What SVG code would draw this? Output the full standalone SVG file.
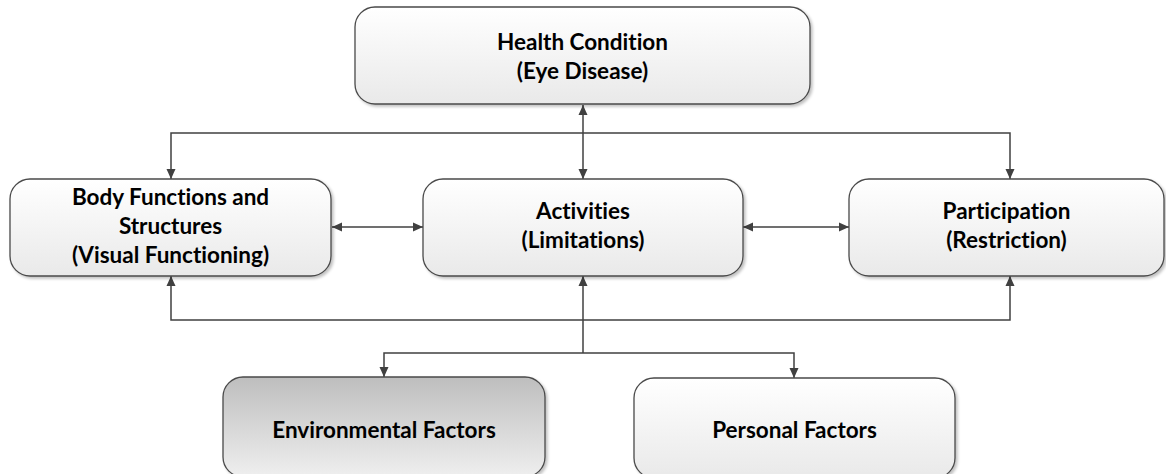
<svg xmlns="http://www.w3.org/2000/svg" width="1166" height="474" viewBox="0 0 1166 474">
  <style>
    .box { stroke: #4a4a4a; stroke-width: 1.3; filter: url(#shadow); }
    .light { fill: url(#gLight); }
    .dark { fill: url(#gDark); }
    .label { font-family: Lato, "Open Sans", sans-serif; font-weight: bold; font-size: 22.5px; font-variant-ligatures: none; fill: #000; text-anchor: middle; }
    .conn { fill: none; stroke: #404040; stroke-width: 1.5; }
  </style>
  <defs>
    <linearGradient id="gLight" x1="0" y1="0" x2="0" y2="1">
      <stop offset="0" stop-color="#ffffff"/>
      <stop offset="1" stop-color="#e9e9e9"/>
    </linearGradient>
    <linearGradient id="gDark" x1="0" y1="0" x2="0" y2="1">
      <stop offset="0" stop-color="#bebebe"/>
      <stop offset="1" stop-color="#efefef"/>
    </linearGradient>
    <filter id="shadow" x="-5%" y="-10%" width="115%" height="130%">
      <feGaussianBlur in="SourceAlpha" stdDeviation="1.5"/>
      <feOffset dx="2" dy="2" result="b"/>
      <feComponentTransfer><feFuncA type="linear" slope="0.25"/></feComponentTransfer>
      <feMerge><feMergeNode/><feMergeNode in="SourceGraphic"/></feMerge>
    </filter>
    <marker id="arrow" viewBox="0 0 10 10" refX="10" refY="5" markerWidth="10" markerHeight="10" markerUnits="userSpaceOnUse" orient="auto-start-reverse">
      <path d="M0,0.5 L10,5 L0,9.5 z" fill="#404040"/>
    </marker>
  </defs>

  <!-- connectors -->
  <g id="connectors">
    <!-- health condition <-> activities -->
    <line class="conn" x1="583" y1="105" x2="583" y2="179" marker-start="url(#arrow)" marker-end="url(#arrow)"/>
    <!-- top distribution line to body and participation -->
    <path class="conn" d="M171,179 V133 H1010 V179" marker-start="url(#arrow)" marker-end="url(#arrow)"/>
    <!-- side links -->
    <line class="conn" x1="332" y1="227" x2="423" y2="227" marker-start="url(#arrow)" marker-end="url(#arrow)"/>
    <line class="conn" x1="743" y1="227" x2="849" y2="227" marker-start="url(#arrow)" marker-end="url(#arrow)"/>
    <!-- bottom return line -->
    <path class="conn" d="M171,276 V320 H1010 V276" marker-start="url(#arrow)" marker-end="url(#arrow)"/>
    <!-- activities down to contextual factors -->
    <line class="conn" x1="583" y1="353" x2="583" y2="276" marker-end="url(#arrow)"/>
    <path class="conn" d="M384,377 V353 H794 V378" marker-start="url(#arrow)" marker-end="url(#arrow)"/>
  </g>

  <g id="health">
    <rect class="box light" x="355" y="7" width="455" height="97" rx="20"/>
    <text class="label" x="582.5" y="50">Health Condition</text>
    <text class="label" x="582.5" y="79">(Eye Disease)</text>
  </g>

  <g id="body">
    <rect class="box light" x="10" y="179" width="321" height="97" rx="20"/>
    <text class="label" x="170.5" y="205">Body Functions and</text>
    <text class="label" x="170.5" y="234">Structures</text>
    <text class="label" x="170.5" y="263">(Visual Functioning)</text>
  </g>

  <g id="activities">
    <rect class="box light" x="423" y="179" width="320" height="97" rx="20"/>
    <text class="label" x="583" y="219">Activities</text>
    <text class="label" x="583" y="248">(Limitations)</text>
  </g>

  <g id="participation">
    <rect class="box light" x="849" y="179" width="315" height="97" rx="20"/>
    <text class="label" x="1006.5" y="219">Participation</text>
    <text class="label" x="1006.5" y="248">(Restriction)</text>
  </g>

  <g id="environmental">
    <rect class="box dark" x="223" y="377" width="322" height="100" rx="20"/>
    <text class="label" x="384" y="438">Environmental Factors</text>
  </g>

  <g id="personal">
    <rect class="box light" x="634" y="378" width="321" height="100" rx="20"/>
    <text class="label" x="794.5" y="438">Personal Factors</text>
  </g>
</svg>
